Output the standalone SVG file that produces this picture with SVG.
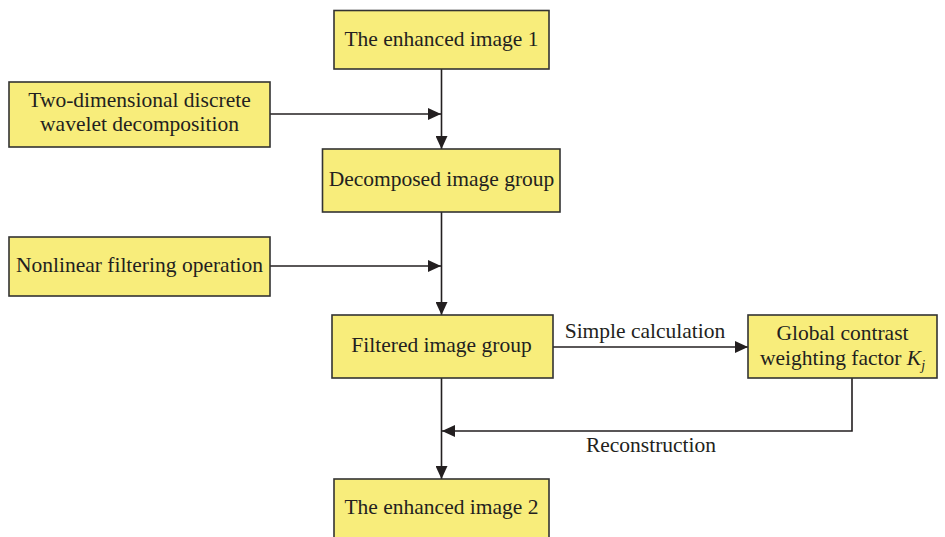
<svg xmlns="http://www.w3.org/2000/svg" width="945" height="537" viewBox="0 0 945 537">
<style>
.box{fill:#f8ed7b;stroke:#333;stroke-width:1.6}
.t{font-family:"Liberation Serif","Times New Roman",serif;font-size:21.5px;fill:#231f20;text-anchor:middle}
.c{fill:none;stroke:#231f20;stroke-width:1.6}
</style>
<defs>
<marker id="ah" markerWidth="14" markerHeight="12" refX="13" refY="6" orient="auto" markerUnits="userSpaceOnUse">
<path d="M0,0 L13,6 L0,12 Z" fill="#231f20"/>
</marker>
</defs>
<rect width="945" height="537" fill="#fff"/>
<g id="connectors">
<path class="c" d="M441.5,69 V149" marker-end="url(#ah)"/>
<path class="c" d="M270,114 H441" marker-end="url(#ah)"/>
<path class="c" d="M441.5,212 V315" marker-end="url(#ah)"/>
<path class="c" d="M270,266 H441" marker-end="url(#ah)"/>
<path class="c" d="M553,347 H748" marker-end="url(#ah)"/>
<path class="c" d="M441.5,378 V479" marker-end="url(#ah)"/>
<path class="c" d="M852,378 V431 H442" marker-end="url(#ah)"/>
<text class="t" x="645" y="338">Simple calculation</text>
<text class="t" x="651" y="452">Reconstruction</text>
</g>
<g id="enhanced1">
<rect class="box" x="334" y="10.5" width="215" height="58.5"/>
<text class="t" x="441.5" y="46">The enhanced image 1</text>
</g>
<g id="dwt">
<rect class="box" x="9" y="82" width="261" height="65"/>
<text class="t" x="139.5" y="107">Two-dimensional discrete</text>
<text class="t" x="139.5" y="131">wavelet decomposition</text>
</g>
<g id="decomposed">
<rect class="box" x="322.5" y="149" width="237.5" height="63"/>
<text class="t" x="441.5" y="186">Decomposed image group</text>
</g>
<g id="nonlinear">
<rect class="box" x="9" y="237" width="261" height="59"/>
<text class="t" x="139.5" y="272">Nonlinear filtering operation</text>
</g>
<g id="filtered">
<rect class="box" x="332" y="315" width="221" height="63"/>
<text class="t" x="441.5" y="352">Filtered image group</text>
</g>
<g id="global">
<rect class="box" x="748" y="315" width="189" height="63"/>
<text class="t" x="842.5" y="340">Global contrast</text>
<text class="t" x="842.5" y="365">weighting factor <tspan font-style="italic">K</tspan><tspan font-style="italic" font-size="14" dy="5">j</tspan></text>
</g>
<g id="enhanced2">
<rect class="box" x="334" y="479" width="215" height="70"/>
<text class="t" x="441.5" y="514">The enhanced image 2</text>
</g>
</svg>
